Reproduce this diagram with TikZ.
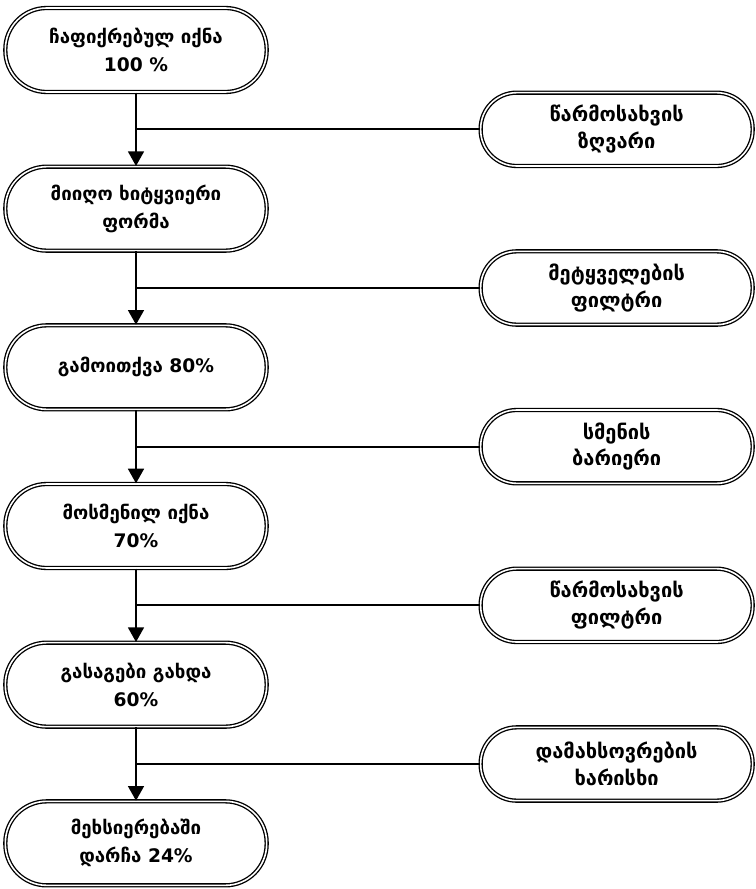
\documentclass[tikz,border=0pt]{standalone}
\usepackage{fontspec}
\setmainfont{DejaVu Sans}
\usetikzlibrary{positioning,arrows.meta,calc}

\tikzset{
  stage/.style={draw, double, double distance=1.2pt, line width=1pt,
    rounded corners=31pt, minimum width=196pt, minimum height=63pt,
    align=center, font=\bfseries\fontsize{14}{21}\selectfont},
  barrier/.style={stage, rounded corners=27pt, minimum width=204pt, minimum height=55pt,
    font=\bfseries\fontsize{15}{20}\selectfont},
}

\begin{document}
\begin{tikzpicture}[x=0.75pt, y=0.75pt, node distance=55pt]
    \useasboundingbox (0,0) rectangle (756,-889);

    \node[stage] (s1) at (136,-50) {ჩაფიქრებულ იქნა\\100 \%};
    \node[stage] (s2) [below=of s1] {მიიღო ხიტყვიერი\\ფორმა};
    \node[stage] (s3) [below=of s2] {გამოითქვა 80\%};
    \node[stage] (s4) [below=of s3] {მოსმენილ იქნა\\70\%};
    \node[stage] (s5) [below=of s4] {გასაგები გახდა\\60\%};
    \node[stage] (s6) [below=of s5] {მეხსიერებაში\\დარჩა 24\%};

    \coordinate (j1) at ($(s1)!.5!(s2)$);
    \coordinate (j2) at ($(s2)!.5!(s3)$);
    \coordinate (j3) at ($(s3)!.5!(s4)$);
    \coordinate (j4) at ($(s4)!.5!(s5)$);
    \coordinate (j5) at ($(s5)!.5!(s6)$);

    \node[barrier] (b1) [right=258pt of j1] {წარმოსახვის\\ზღვარი};
    \node[barrier] (b2) [right=258pt of j2] {მეტყველების\\ფილტრი};
    \node[barrier] (b3) [right=258pt of j3] {სმენის\\ბარიერი};
    \node[barrier] (b4) [right=258pt of j4] {წარმოსახვის\\ფილტრი};
    \node[barrier] (b5) [right=258pt of j5] {დამახსოვრების\\ხარისხი};

    \path[line width=1.3pt, -{Triangle[length=11pt, width=12pt]}]
        (s1.south) edge (s2.north)
        (s2.south) edge (s3.north)
        (s3.south) edge (s4.north)
        (s4.south) edge (s5.north)
        (s5.south) edge (s6.north);
    \path[line width=1.3pt]
        (b1.west) edge (j1)
        (b2.west) edge (j2)
        (b3.west) edge (j3)
        (b4.west) edge (j4)
        (b5.west) edge (j5);

\end{tikzpicture}
\end{document}
